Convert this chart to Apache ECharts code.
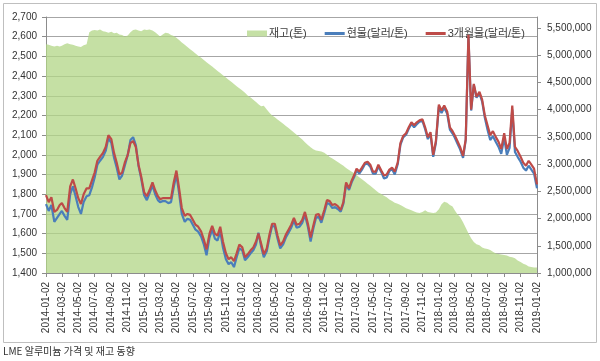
<!DOCTYPE html>
<html><head><meta charset="utf-8">
<script src="https://cdn.jsdelivr.net/npm/echarts@6/dist/echarts.min.js"></script>
<style>html,body{margin:0;padding:0;background:#fff}#c{width:600px;height:361px}</style>
</head><body><div id="c"></div>
<script>
// x-axis tick labels (every two months)
const tickLabels = ['2014-01-02','2014-03-02','2014-05-02','2014-07-02','2014-09-02','2014-11-02',
  '2015-01-02','2015-03-02','2015-05-02','2015-07-02','2015-09-02','2015-11-02',
  '2016-01-02','2016-03-02','2016-05-02','2016-07-02','2016-09-02','2016-11-02',
  '2017-01-02','2017-03-02','2017-05-02','2017-07-02','2017-09-02','2017-11-02',
  '2018-01-02','2018-03-02','2018-05-02','2018-07-02','2018-09-02','2018-11-02','2019-01-02'];

// sampling dates: 2nd, 12th, 22nd of each month, 2014-01 .. 2018-12, plus 2019-01-02
const priceDates = [];
for (let y = 2014; y <= 2018; y++) for (let m = 1; m <= 12; m++) for (const d of [2, 12, 22])
  priceDates.push(y + '-' + String(m).padStart(2, '0') + '-' + String(d).padStart(2, '0'));
priceDates.push('2019-01-02');

// 3-month futures (USD/t)
const futures3m = [
  1795,1760,1785, 1710,1720,1745, 1755,1730,1710, 1840,1875,1830, 1780,1750,1800, 1830,1830,1870,
  1910,1970,1990, 2010,2040,2100, 2080,2010,1960, 1900,1910,1960, 2000,2060,2070, 2040,1950,1890,
  1810,1790,1820, 1860,1820,1790, 1775,1780,1780, 1780,1780,1860, 1920,1830,1730, 1690,1700,1695,
  1670,1645,1635, 1610,1570,1520, 1600,1640,1600, 1590,1635,1560, 1500,1470,1480, 1460,1500,1545,
  1530,1480,1495, 1515,1530,1560, 1600,1550,1495, 1525,1595,1650, 1650,1590,1540, 1560,1595,1620,
  1645,1680,1645, 1650,1670,1710, 1650,1580,1640, 1695,1700,1670, 1720,1770,1765, 1745,1750,1740,
  1720,1760,1860, 1830,1870,1900, 1930,1915,1935, 1960,1965,1950, 1915,1915,1950, 1920,1895,1900,
  1925,1935,1915, 1960,2060,2095, 2110,2140,2165, 2150,2165,2175, 2180,2140,2090, 2115,2000,2070,
  2255,2225,2250, 2220,2140,2120, 2100,2070,2040, 1995,2080,2610, 2230,2360,2295, 2320,2280,2200,
  2150,2100,2120, 2090,2066,2030, 2110,2030,2060, 2250,2040,2020, 1990,1960,1945, 1970,1950,1930,
  1850];

// spot / cash (USD/t)
const spot = [
  1750,1715,1745, 1660,1680,1700, 1715,1690,1670, 1800,1840,1790, 1735,1700,1760, 1790,1795,1835,
  1885,1950,1970, 1990,2020,2085, 2060,1985,1935, 1875,1895,1945, 2000,2075,2090, 2050,1945,1880,
  1795,1770,1805, 1845,1800,1770, 1760,1765,1765, 1755,1760,1835, 1900,1805,1700, 1660,1675,1670,
  1645,1620,1610, 1585,1545,1490, 1580,1620,1575, 1565,1610,1530, 1470,1445,1455, 1430,1480,1525,
  1515,1465,1480, 1500,1515,1545, 1605,1535,1480, 1510,1580,1640, 1635,1575,1525, 1545,1580,1605,
  1630,1665,1630, 1635,1655,1695, 1635,1560,1625, 1680,1685,1655, 1705,1755,1750, 1730,1735,1725,
  1712,1752,1850, 1822,1862,1890, 1922,1905,1925, 1952,1955,1940, 1905,1905,1942, 1912,1880,1885,
  1918,1928,1900, 1952,2050,2088, 2102,2132,2158, 2140,2155,2168, 2172,2130,2080, 2105,1990,2060,
  2245,2212,2240, 2208,2128,2108, 2088,2058,2028, 1985,2075,2600, 2225,2355,2290, 2312,2270,2188,
  2128,2075,2095, 2065,2040,2005, 2085,2000,2035, 2230,2015,1990, 1965,1935,1920, 1945,1925,1905,
  1830];

// LME stock (tonnes)
const stock = [
  5200000,5190000,5170000, 5160000,5170000,5160000, 5170000,5200000,5220000, 5200000,5190000,5170000,
  5160000,5150000,5180000, 5200000,5420000,5450000, 5460000,5450000,5470000, 5440000,5430000,5410000,
  5430000,5400000,5410000, 5380000,5370000,5340000, 5360000,5420000,5460000, 5470000,5450000,5440000,
  5470000,5460000,5470000, 5450000,5420000,5380000, 5340000,5380000,5410000, 5400000,5370000,5350000,
  5320000,5280000,5230000, 5190000,5150000,5110000, 5070000,5030000,4990000, 4950000,4910000,4870000,
  4830000,4790000,4750000, 4710000,4670000,4630000, 4590000,4550000,4510000, 4470000,4430000,4390000,
  4350000,4310000,4260000, 4220000,4180000,4140000, 4100000,4060000,4070000, 4000000,3940000,3890000,
  3860000,3820000,3780000, 3740000,3700000,3660000, 3620000,3580000,3540000, 3490000,3450000,3400000,
  3350000,3310000,3270000, 3250000,3240000,3230000, 3210000,3170000,3130000, 3100000,3070000,3040000,
  3000000,2970000,2930000, 2890000,2860000,2830000, 2800000,2760000,2720000, 2680000,2640000,2600000,
  2560000,2520000,2480000, 2450000,2420000,2390000, 2350000,2320000,2290000, 2270000,2250000,2220000,
  2190000,2170000,2150000, 2130000,2110000,2100000, 2120000,2150000,2120000, 2110000,2100000,2110000,
  2170000,2260000,2310000, 2290000,2250000,2220000, 2150000,2080000,2030000, 1930000,1830000,1730000,
  1640000,1570000,1530000, 1510000,1470000,1450000, 1440000,1420000,1390000, 1360000,1350000,1340000,
  1330000,1320000,1300000, 1290000,1270000,1230000, 1200000,1170000,1150000, 1120000,1110000,1100000,
  1100000];

const seriesNames = ['재고(톤)', '현물(달러/톤)', '3개월물(달러/톤)'];
const caption = 'LME 알루미늄 가격 및 재고 동향';

const START = Date.UTC(2014, 0, 2);
function dayOf(s) { const p = s.split('-').map(Number); return Math.round((Date.UTC(p[0], p[1] - 1, p[2]) - START) / 864e5); }
const tickDays = tickLabels.map(dayOf);
const labelOf = {}; tickLabels.forEach((t, i) => { labelOf[tickDays[i]] = t; });
const pair = arr => priceDates.map((d, i) => [dayOf(d), arr[i]]);

const FF = "'Liberation Sans', 'Noto Sans CJK KR', sans-serif";
const BLUE = '#4a7ebb', RED = '#be4b48', GREEN = '#c5e0a5';
const AX = '#8c8c8c';
const fmt = v => Number(v).toLocaleString('en-US');

const chart = echarts.init(document.getElementById('c'), null, { renderer: 'canvas' });
chart.setOption({
  animation: false,
  textStyle: { fontFamily: FF },
  grid: { left: 46, top: 17, width: 491, height: 256 },
  legend: {
    left: 242, top: 23, itemGap: 18, itemWidth: 20, itemHeight: 6,
    textStyle: { fontSize: 11, color: '#404040', fontFamily: FF, padding: [0, 0, 0, -3] },
    data: [
      { name: seriesNames[0], icon: 'rect', itemStyle: { color: GREEN } },
      { name: seriesNames[1], icon: 'path://M0,0H20V3H0Z', itemStyle: { color: BLUE } },
      { name: seriesNames[2], icon: 'path://M0,0H20V3H0Z', itemStyle: { color: RED } }
    ]
  },
  xAxis: {
    type: 'value', min: 0, max: dayOf('2019-01-02'),
    axisLine: { lineStyle: { color: AX } },
    axisTick: { show: true, length: 4, customValues: tickDays, lineStyle: { color: AX } },
    axisLabel: { customValues: tickDays, rotate: 90, fontSize: 10, color: '#333', margin: 9,
      formatter: v => labelOf[v] || '' },
    splitLine: { show: false }
  },
  yAxis: [
    { type: 'value', min: 1400, max: 2700, interval: 100,
      axisLine: { show: true, lineStyle: { color: AX } },
      axisTick: { show: true, length: 4, lineStyle: { color: AX } },
      splitLine: { show: true, lineStyle: { color: '#a6a6a6', width: 1 } },
      axisLabel: { fontSize: 10, color: '#333', margin: 9, formatter: fmt } },
    { type: 'value', position: 'right', min: 1000000, max: 5700000, interval: 500000,
      axisLine: { show: true, lineStyle: { color: AX } },
      axisTick: { show: true, length: 4, lineStyle: { color: AX } },
      splitLine: { show: false },
      axisLabel: { fontSize: 10, color: '#333', margin: 10, showMaxLabel: false, formatter: fmt } }
  ],
  series: [
    { name: seriesNames[0], type: 'line', yAxisIndex: 1, data: pair(stock), symbol: 'none',
      color: GREEN, lineStyle: { width: 0 },
      areaStyle: { color: '#b2d686', opacity: 0.75, origin: 'start' }, z: 1 },
    { name: seriesNames[1], type: 'line', data: pair(spot), symbol: 'none', color: BLUE,
      lineStyle: { width: 2.2, color: BLUE }, z: 3 },
    { name: seriesNames[2], type: 'line', data: pair(futures3m), symbol: 'none', color: RED,
      lineStyle: { width: 2.2, color: RED }, z: 4 }
  ],
  graphic: [
    { type: 'rect', silent: true, z: -10, shape: { x: 3.5, y: 3.5, width: 593, height: 339 },
      style: { fill: 'none', stroke: '#bfbfbf', lineWidth: 1 } },
    { type: 'text', silent: true, x: 3, y: 351,
      style: { text: caption, fontSize: 10, fontFamily: "'Noto Sans CJK KR', sans-serif", fill: '#333', verticalAlign: 'middle' } }
  ]
});
</script></body></html>
